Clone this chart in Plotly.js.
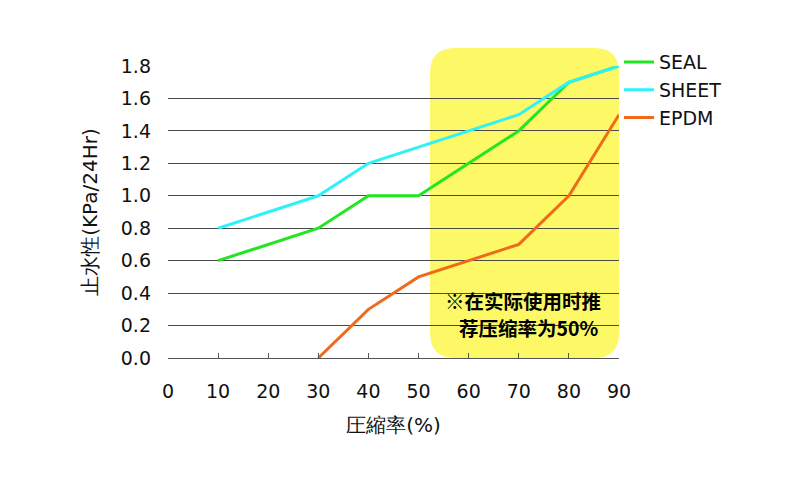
<!DOCTYPE html>
<html>
<head>
<meta charset="utf-8">
<script src="https://cdn.plot.ly/plotly-3.0.1.min.js"></script>
<style>body{margin:0;background:#fff}</style>
</head>
<body>
<div id="chart" style="width:800px;height:500px"></div>
<script>
var ratio = [10, 20, 30, 40, 50, 60, 70, 80, 90];
var seal = [0.6, 0.7, 0.8, 1.0, 1.0, 1.2, 1.4, 1.7, 1.8];
var sheet = [0.8, 0.9, 1.0, 1.2, 1.3, 1.4, 1.5, 1.7, 1.8];
var epdmRatio = [30, 40, 50, 60, 70, 80, 90];
var epdm = [0.0, 0.3, 0.5, 0.6, 0.7, 1.0, 1.5];
var noteLines = ['※在实际使用时推', '荐压缩率为50%'];

var font = '"DejaVu Sans", sans-serif';

// yellow rounded box, in paper units (plot is 450 x 292 px)
var bx0 = 52.3 / 90, bx1 = 1, by0 = 0, by1 = 1.062, rx = 25 / 450, ry = 25 / 292;
var box = 'M ' + (bx0 + rx) + ',' + by1 +
  ' L ' + (bx1 - rx) + ',' + by1 +
  ' Q ' + bx1 + ',' + by1 + ' ' + bx1 + ',' + (by1 - ry) +
  ' L ' + bx1 + ',' + (by0 + ry) +
  ' Q ' + bx1 + ',' + by0 + ' ' + (bx1 - rx) + ',' + by0 +
  ' L ' + (bx0 + rx) + ',' + by0 +
  ' Q ' + bx0 + ',' + by0 + ' ' + bx0 + ',' + (by0 + ry) +
  ' L ' + bx0 + ',' + (by1 - ry) +
  ' Q ' + bx0 + ',' + by1 + ' ' + (bx0 + rx) + ',' + by1 + ' Z';

var data = [
  {x: ratio, y: seal, name: 'SEAL', type: 'scatter', mode: 'lines',
   line: {color: '#22e622', width: 3}},
  {x: ratio, y: sheet, name: 'SHEET', type: 'scatter', mode: 'lines',
   line: {color: '#2ef2f8', width: 3}},
  {x: epdmRatio, y: epdm, name: 'EPDM', type: 'scatter', mode: 'lines',
   line: {color: '#f06a1c', width: 3}}
];

var noteFont = {family: 'Noto Sans CJK SC, sans-serif', size: 19.5, color: '#000', weight: 'bold'};

var layout = {
  width: 800, height: 500,
  margin: {l: 168, r: 181, t: 66, b: 142},
  paper_bgcolor: '#fff', plot_bgcolor: 'rgba(0,0,0,0)',
  font: {family: font, size: 19, color: '#111'},
  showlegend: true,
  legend: {x: 1.0, y: 1.078, xanchor: 'left', yanchor: 'top',
           font: {family: font, size: 19, color: '#111'},
           tracegroupgap: 0, itemwidth: 30, bgcolor: 'rgba(0,0,0,0)'},
  xaxis: {range: [0, 90], tickvals: [0, 10, 20, 30, 40, 50, 60, 70, 80, 90],
          showgrid: false, zeroline: false, showline: true,
          linecolor: '#555', linewidth: 1.3,
          ticks: 'inside', ticklen: 5, tickcolor: '#555', tickwidth: 1.3,
          ticklabelstandoff: 16,
          title: {text: '圧縮率(%)', standoff: 17,
                  font: {family: font, size: 20, color: '#111'}}},
  yaxis: {range: [0, 1.8], tickvals: [0, 0.2, 0.4, 0.6, 0.8, 1.0, 1.2, 1.4, 1.6, 1.8],
          tickformat: '.1f', showgrid: true, gridcolor: '#4a4a4a', gridwidth: 1.3,
          zeroline: false, showline: false, ticks: '',
          ticklabelstandoff: 16,
          title: {text: '止水性(KPa/24Hr)', standoff: 17,
                  font: {family: font, size: 20, color: '#111'}}},
  shapes: [
    {type: 'path', xref: 'paper', yref: 'paper', path: box, layer: 'below',
     fillcolor: '#fdf866', line: {width: 0}}
  ],
  annotations: [
    {x: 70.8, y: 0.357, xref: 'x', yref: 'y', text: noteLines[0], showarrow: false, font: noteFont},
    {x: 72.0, y: 0.19, xref: 'x', yref: 'y', text: noteLines[1], showarrow: false, font: noteFont}
  ]
};

Plotly.newPlot('chart', data, layout, {displayModeBar: false});
</script>
</body>
</html>
